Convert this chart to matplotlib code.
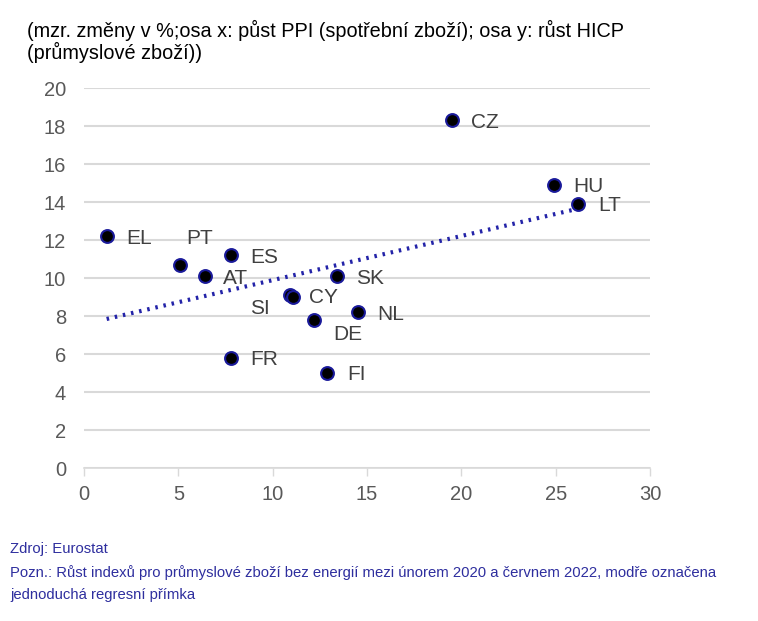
import numpy as np
import matplotlib
matplotlib.use("Agg")
import matplotlib.pyplot as plt

plt.rcParams['font.family'] = ['Liberation Sans', 'DejaVu Sans']

countries = ["CZ", "HU", "LT", "EL", "PT", "ES", "AT", "SK", "SI", "CY", "NL", "DE", "FR", "FI"]
ppi = [19.5, 24.9, 26.2, 1.2, 5.1, 7.8, 6.4, 13.4, 10.9, 11.1, 14.5, 12.2, 7.8, 12.9]
hicp = [18.3, 14.9, 13.9, 12.2, 10.7, 11.2, 10.1, 10.1, 9.1, 9.0, 8.2, 7.8, 5.8, 5.0]
# label offsets in points (dx, dy) and alignment
label_pos = {
    "CZ": (14, 0, 'left'), "HU": (14, 0, 'left'), "LT": (14, 0, 'left'),
    "EL": (14, 0, 'left'), "PT": (4, 20, 'left'), "ES": (14, 0, 'left'),
    "AT": (13, 0, 'left'), "SK": (14, 0, 'left'), "SI": (-14, -8, 'right'),
    "CY": (11, 1, 'left'), "NL": (14, 0, 'left'), "DE": (14, -9, 'left'),
    "FR": (14, 0, 'left'), "FI": (14, 0, 'left'),
}

fig = plt.figure(figsize=(7.58, 6.21), dpi=100)
ax = fig.add_axes([84/758, 1-468/621, (650-84)/758, (468-88)/621])

ax.set_xlim(0, 30)
ax.set_ylim(0, 20)
ax.set_xticks(range(0, 31, 5))
ax.set_yticks(range(0, 21, 2))
ax.grid(axis='y', color='#d9d9d9', linewidth=1.5)
ax.set_axisbelow(True)
for s in ['top', 'right', 'left']:
    ax.spines[s].set_visible(False)
ax.spines['bottom'].set_color('#d9d9d9')
ax.spines['bottom'].set_linewidth(1.2)
ax.tick_params(axis='x', colors='#d9d9d9', length=6, width=1, labelcolor='#595959', labelsize=14.5, pad=6)
ax.tick_params(axis='y', length=0, labelcolor='#595959', labelsize=14.5, pad=13)

x = np.array(ppi)
y = np.array(hicp)
k, q = np.polyfit(x, y, 1)
xl = np.array([x.min(), x.max()])
ax.plot(xl, k*xl + q, linestyle=(0, (0.6, 1.4)), color='#2323a8', linewidth=3, zorder=2)

ax.scatter(x, y, s=85, color='black', edgecolors='#1a1a9a', linewidths=1.5, zorder=3)

for c, xi, yi in zip(countries, ppi, hicp):
    dx, dy, ha = label_pos[c]
    ax.annotate(c, (xi, yi), xytext=(dx, dy), textcoords='offset points',
                ha=ha, va='center_baseline', fontsize=15, color='#404040', zorder=4)

fig.text(27/758, 1-30/621, "(mzr. změny v %;osa x: půst PPI (spotřební zboží); osa y: růst HICP",
         fontsize=14.3, color='black', va='center', ha='left')
fig.text(27/758, 1-52/621, "(průmyslové zboží))",
         fontsize=14.3, color='black', va='center', ha='left')

fc = '#2e2e9e'
fig.text(10/758, 1-549/621, "Zdroj: Eurostat", fontsize=10.7, color=fc, va='center', ha='left')
fig.text(10/758, 1-573/621, "Pozn.: Růst indexů pro průmyslové zboží bez energií mezi únorem 2020 a červnem 2022, modře označena",
         fontsize=10.7, color=fc, va='center', ha='left')
fig.text(10/758, 1-595/621, "jednoduchá regresní přímka", fontsize=10.7, color=fc, va='center', ha='left')

fig.savefig("out.png", dpi=100)
